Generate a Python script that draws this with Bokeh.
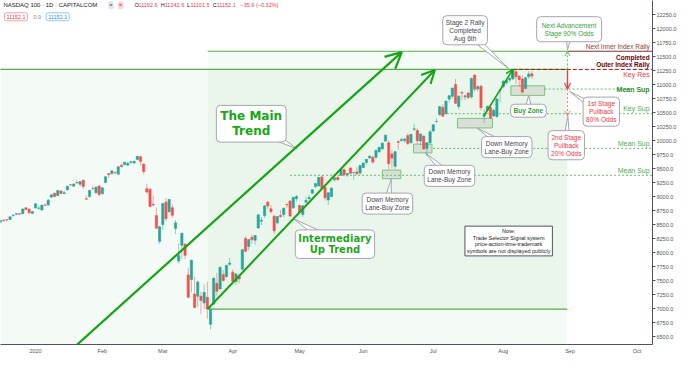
import numpy as np
import pandas as pd
from bokeh.plotting import figure
from bokeh.models import (ColumnDataSource, Label, Arrow, OpenHead, FixedTicker,
                          NumeralTickFormatter, Range1d)
from bokeh.embed import file_html
from bokeh.resources import INLINE

# ---------------- data ----------------
holidays = ["2019-12-25", "2020-01-01", "2020-01-20", "2020-02-17", "2020-04-10",
            "2020-05-25", "2020-07-03", "2020-09-07"]

# daily bars (open, high, low, close), NASDAQ 100 CFD, from 2019-12-16
dec19 = [(8540, 8590, 8535, 8573), (8580, 8590, 8560, 8572), (8585, 8600, 8570, 8580),
         (8590, 8640, 8585, 8638), (8660, 8680, 8640, 8668), (8685, 8700, 8670, 8693),
         (8695, 8700, 8680, 8686), (8695, 8780, 8690, 8778), (8800, 8805, 8750, 8771),
         (8775, 8780, 8690, 8709), (8700, 8735, 8685, 8733)]
jan20 = [(8800, 8873, 8780, 8872), (8790, 8835, 8770, 8794), (8760, 8850, 8745, 8848),
         (8850, 8875, 8835, 8846), (8850, 8960, 8840, 8935), (8990, 9035, 8975, 9030),
         (9060, 9065, 8985, 9002), (9020, 9110, 9005, 9108), (9100, 9110, 9050, 9056),
         (9055, 9100, 9045, 9068), (9120, 9185, 9110, 9185), (9210, 9220, 9185, 9208),
         (9185, 9240, 9180, 9222), (9250, 9290, 9235, 9242), (9220, 9270, 9180, 9268),
         (9290, 9300, 9140, 9179), (8960, 9020, 8950, 8953), (9000, 9120, 8980, 9110),
         (9140, 9190, 9120, 9139), (9070, 9180, 9050, 9168), (9190, 9195, 9000, 9036)]
feb20 = [(9050, 9170, 9040, 9155), (9250, 9360, 9240, 9354), (9410, 9420, 9330, 9392),
         (9410, 9460, 9390, 9459), (9430, 9450, 9390, 9424), (9400, 9535, 9395, 9531),
         (9560, 9590, 9520, 9534), (9570, 9615, 9560, 9613), (9560, 9620, 9550, 9595),
         (9610, 9625, 9580, 9623), (9600, 9640, 9580, 9629), (9660, 9720, 9655, 9718),
         (9710, 9735, 9550, 9628), (9580, 9600, 9400, 9447), (9140, 9230, 9060, 9080),
         (9130, 9150, 8810, 8821), (8860, 9020, 8830, 8848), (8660, 8800, 8430, 8436),
         (8200, 8480, 8150, 8462)]
mar20 = [(8500, 8880, 8400, 8877), (8900, 8980, 8560, 8604), (8730, 8950, 8700, 8949),
         (8800, 8860, 8620, 8665), (8430, 8580, 8330, 8530), (7850, 8170, 7800, 7948),
         (8130, 8345, 7880, 8344), (8150, 8170, 7880, 7952), (7600, 7730, 7190, 7201),
         (7520, 7870, 7290, 7863), (7260, 7570, 7000, 7020), (7220, 7500, 7030, 7474),
         (7220, 7300, 6900, 7143), (7100, 7440, 6990, 7288), (7200, 7480, 6820, 6994),
         (6720, 7040, 6630, 6990), (7080, 7560, 7060, 7540), (7450, 7640, 7230, 7310),
         (7350, 7740, 7340, 7738), (7610, 7690, 7480, 7503), (7570, 7790, 7550, 7769),
         (7790, 7900, 7760, 7813)]
apr20 = [(7650, 7700, 7480, 7487), (7480, 7640, 7420, 7618), (7580, 7620, 7450, 7528),
         (7700, 8060, 7690, 8052), (8250, 8290, 8010, 8024), (8110, 8240, 8040, 8233),
         (8270, 8320, 8160, 8232), (8220, 8310, 8140, 8303), (8440, 8680, 8420, 8673),
         (8560, 8640, 8490, 8577), (8660, 8850, 8620, 8833), (8900, 8920, 8780, 8833),
         (8780, 8850, 8700, 8730), (8650, 8670, 8330, 8388), (8530, 8650, 8510, 8642),
         (8660, 8760, 8620, 8644), (8680, 8800, 8630, 8789), (8860, 8880, 8800, 8854),
         (8920, 8930, 8640, 8651), (8800, 8990, 8780, 8986), (8960, 9030, 8910, 9000)]
may20 = [(8840, 8860, 8690, 8718), (8680, 8840, 8640, 8834), (8900, 9000, 8880, 8930),
         (8960, 9030, 8950, 8984), (9060, 9130, 9050, 9121), (9180, 9240, 9150, 9235),
         (9190, 9350, 9180, 9339), (9350, 9380, 9140, 9146), (9160, 9200, 8930, 8977),
         (8940, 9070, 8850, 9068), (9000, 9160, 8990, 9152), (9300, 9360, 9270, 9331),
         (9340, 9380, 9290, 9299), (9380, 9490, 9370, 9485), (9480, 9500, 9360, 9389),
         (9390, 9420, 9350, 9413), (9510, 9520, 9400, 9414), (9430, 9440, 9300, 9430),
         (9440, 9520, 9390, 9409), (9420, 9560, 9390, 9555)]
jun20 = [(9520, 9610, 9510, 9598), (9610, 9665, 9570, 9664), (9690, 9740, 9670, 9720),
         (9700, 9730, 9590, 9615), (9700, 9850, 9670, 9824), (9800, 9880, 9780, 9880),
         (9850, 9970, 9840, 9953), (9990, 10110, 9980, 10094), (9960, 10000, 9480, 9587),
         (9760, 9830, 9500, 9685), (9540, 9820, 9490, 9799), (9980, 10010, 9830, 9967),
         (10000, 10050, 9980, 10020), (10000, 10040, 9960, 10027), (10090, 10130, 9920, 9946),
         (9960, 10120, 9950, 10111), (10200, 10300, 10170, 10209), (10180, 10220, 9940, 9997),
         (9990, 10120, 9920, 10118), (10080, 10090, 9840, 9849), (9860, 9970, 9720, 9962),
         (9960, 10190, 9950, 10157)]
jul20 = [(10170, 10290, 10160, 10280), (10340, 10400, 10320, 10341), (10460, 10620, 10450, 10605),
         (10590, 10650, 10430, 10434), (10480, 10710, 10470, 10706), (10740, 10810, 10680, 10800),
         (10790, 10940, 10750, 10937), (11000, 11100, 10650, 10666), (10610, 10810, 10560, 10793),
         (10860, 10880, 10720, 10847), (10780, 10820, 10720, 10799), (10850, 10860, 10740, 10767),
         (10780, 11120, 10750, 11110), (11170, 11180, 10880, 10914), (10920, 10990, 10880, 10962),
         (10970, 11000, 10540, 10587), (10440, 10560, 10310, 10462), (10540, 10630, 10520, 10610),
         (10590, 10610, 10390, 10402), (10440, 10570, 10420, 10542), (10430, 10760, 10400, 10742),
         (10900, 10920, 10680, 10905)]
aug20 = [(10960, 11080, 10940, 11060), (11030, 11090, 10990, 11072), (11080, 11130, 11040, 11111),
         (11100, 11280, 11080, 11268), (11230, 11250, 11010, 11139), (11150, 11170, 10960, 11089),
         (11100, 11170, 10840, 10866), (10930, 11140, 10920, 11123), (11140, 11240, 11100, 11188),
         (11192.6, 11242.6, 11101.5, 11152.1)]

month_labels = ["2020", "Feb", "Mar", "Apr", "May", "Jun", "Jul", "Aug", "Sep", "Oct"]
price_ticks = list(range(6500, 12251, 250))

# horizontal levels drawn by the analyst
level_prices = [11595, 11270, 11267, 10920, 10480, 9860, 9380]
level_texts = ["Next Inner Index Rally", "Completed\nOuter Index Rally", "Key Res",
               "Mean Sup", "Key Sup", "Mean Sup", "Mean Sup"]
last_price = 11152.1

# trend lines (bar index, price) -> (bar index, price)
main_trend = (12, 6300, 115.1, 11580)
inter_trend = (54.1, 6991, 125.5, 11260)
stage2_leg = (140.8, 10430, 150.0, 11270)

# buy zones (bar from, bar to, price low, price high)
zones = [(109.0, 114.8, 9318, 9472), (118.8, 124.6, 9780, 9935),
         (132.6, 143.6, 10225, 10396), (149.4, 160.0, 10807, 10978)]

# ---------------- build ----------------
ohlc = dec19 + jan20 + feb20 + mar20 + apr20 + may20 + jun20 + jul20 + aug20
cal = pd.bdate_range("2019-12-16", "2020-10-30")
cal = cal[~cal.isin(pd.to_datetime(holidays))]
origin = int(np.where(cal == pd.Timestamp("2020-01-02"))[0][0])
idx_all = np.arange(len(cal)) - origin
n = len(ohlc)
x = idx_all[:n].astype(float)
o, h, l, c = (np.array(col, dtype=float) for col in zip(*ohlc))

month_ticks = []
for m in range(1, 11):
    first = np.where((cal.year == 2020) & (cal.month == m))[0][0]
    month_ticks.append(int(first - origin))

X0, X1 = -11.0, 193.9
Y0, Y1 = 6358.0, 12501.0
FONT = "Liberation Sans"

p = figure(width=679, height=356, x_range=Range1d(X0, X1), y_range=Range1d(Y0, Y1),
           output_backend="svg", toolbar_location=None, y_axis_location="right",
           background_fill_color="white", border_fill_color="white",
           min_border_left=0, min_border_top=0, min_border_right=0, min_border_bottom=0)
p.grid.visible = False
p.outline_line_color = None

AX = "#50535e"
p.yaxis.ticker = FixedTicker(ticks=price_ticks)
p.yaxis.formatter = NumeralTickFormatter(format="0.0")
p.yaxis.axis_line_color = AX
p.yaxis.major_tick_line_color = AX
p.yaxis.major_tick_out = 3
p.yaxis.major_tick_in = 0
p.yaxis.minor_tick_line_color = None
p.yaxis.minor_tick_out = 0
p.yaxis.minor_tick_in = 0
p.yaxis.major_label_text_font_size = "5.5px"
p.yaxis.major_label_text_color = AX
p.yaxis.major_label_text_font = FONT
p.yaxis.major_label_standoff = 1

p.xaxis.ticker = FixedTicker(ticks=month_ticks)
p.xaxis.major_label_overrides = {t: lab for t, lab in zip(month_ticks, month_labels)}
p.xaxis.axis_line_color = AX
p.xaxis.major_tick_line_color = None
p.xaxis.minor_tick_line_color = None
p.xaxis.major_tick_out = 0
p.xaxis.major_tick_in = 0
p.xaxis.minor_tick_out = 0
p.xaxis.minor_tick_in = 0
p.xaxis.major_label_text_font_size = "5.5px"
p.xaxis.major_label_text_color = AX
p.xaxis.major_label_text_font = FONT
p.xaxis.major_label_standoff = 3

G_LINE = "#5aab46"
# shaded rectangles
p.quad(left=[X0 - 2], right=[167.1], bottom=[Y0 - 200], top=[level_prices[1]],
       fill_color="#4caf50", fill_alpha=0.06, line_color=None, level="underlay")
p.quad(left=[inter_trend[0]], right=[167.1], bottom=[inter_trend[1]], top=[level_prices[0]],
       fill_color="#4caf50", fill_alpha=0.055, line_color=None, level="underlay")
p.line([X0 - 2, 167.1], [level_prices[1]] * 2, line_color=G_LINE, line_width=1.3)
p.line([inter_trend[0], 167.1], [level_prices[0]] * 2, line_color=G_LINE, line_width=1.2)
p.line([inter_trend[0], 167.1], [inter_trend[1]] * 2, line_color=G_LINE, line_width=1.2)

# buy zones
for z0, z1, zl, zh in zones:
    p.quad(left=[z0], right=[z1], bottom=[zl], top=[zh], fill_color="#c8ccc8",
           fill_alpha=0.55, line_color="#7cc47c", line_width=1)

# level lines
lvl_start = [167.1, 150.0, None, 160.0, 128.0, 125.0, 80.0]
lvl_end = [X1, X1, None, 187.0, X1, X1, X1]
lvl_color = ["#8b2c2c", "#a31515", None, "#66bb6a", "#66bb6a", "#66bb6a", "#66bb6a"]
lvl_dash = ["solid", "4 2", None, "2 2", "2 2", "2 2", "2 2"]
for pr, s, e, col, d in zip(level_prices, lvl_start, lvl_end, lvl_color, lvl_dash):
    if s is None:
        continue
    p.line([s, e], [pr, pr], line_color=col, line_width=1, line_dash=d)

# candles
UP, DN = "#26a69a", "#ef5350"
up = c >= o
for mask, col in ((up, UP), (~up, DN)):
    src = ColumnDataSource(dict(x=x[mask], o=o[mask], h=h[mask], l=l[mask], c=c[mask],
                                top=np.maximum(o, c)[mask], bot=np.minimum(o, c)[mask]))
    p.segment(x0="x", y0="l", x1="x", y1="h", source=src, line_color=col,
              line_alpha=0.5, line_width=1)
    p.vbar(x="x", top="top", bottom="bot", width=0.7, source=src, fill_color=col,
           line_color=col, line_width=0.6)

# trend arrows
TG = "#16a316"
for (xa, ya, xb, yb), hs, lw in ((main_trend, 16, 2.2), (inter_trend, 13, 2), (stage2_leg, 7, 1.6)):
    p.add_layout(Arrow(end=OpenHead(size=hs, line_color=TG, line_width=lw),
                       x_start=xa, y_start=ya, x_end=xb, y_end=yb,
                       line_color=TG, line_width=lw))

# vertical projection arrows
p.add_layout(Arrow(end=OpenHead(size=5, line_color="#66bb6a", line_width=1),
                   x_start=167.2, y_start=level_prices[1], x_end=167.2, y_end=level_prices[0],
                   line_color="#66bb6a", line_width=1, line_dash="2 2"))
p.add_layout(Arrow(end=OpenHead(size=6, line_color="#f23645", line_width=1.2),
                   x_start=167.2, y_start=level_prices[1], x_end=167.2, y_end=level_prices[3],
                   line_color="#f23645", line_width=1.3))
p.add_layout(Arrow(end=OpenHead(size=5, line_color="#f77c80", line_width=1),
                   x_start=167.2, y_start=level_prices[3], x_end=167.2, y_end=level_prices[4] - 40,
                   line_color="#f77c80", line_width=1, line_dash="2 2"))

# callouts
SX = 655 / (X1 - X0)
SY = 344 / (Y1 - Y0)


def callout(text, cx, cy, tx=None, ty=None, color="#434651", size="6.5px", bold=False,
            font=FONT, pad=3, radius=4, border="#a3a6af", halfw=5, lh=1.15):
    if tx is not None:
        vx, vy = (tx - cx) * SX, (ty - cy) * SY
        ln = (vx ** 2 + vy ** 2) ** 0.5
        nx, ny = -vy / ln, vx / ln
        xs = [cx + nx * halfw / SX, tx, cx - nx * halfw / SX]
        ys = [cy + ny * halfw / SY, ty, cy - ny * halfw / SY]
        p.patch(xs, ys, fill_color="white", line_color=border, line_width=1)
    p.add_layout(Label(x=cx, y=cy, text=text, text_align="center", text_baseline="middle",
                       anchor="center", text_color=color, text_font_size=size, text_font=font,
                       text_font_style="bold" if bold else "normal", text_line_height=lh,
                       background_fill_color="white", background_fill_alpha=1.0,
                       border_line_color=border, border_line_width=1,
                       padding=pad, border_radius=radius))


callout("The Main\nTrend", 67.8, 10300, 82.2, 9851, color="#15a815", size="12px", bold=True,
        font="DejaVu Sans", pad=4, lh=1.05, halfw=7)
callout("Intermediary\nUp Trend", 94.1, 8150, 81.2, 8600, color="#1fa61f", size="10px",
        bold=True, font="DejaVu Sans", pad=3, lh=1.05, halfw=6)
callout("Stage 2 Rally\nCompleted\nAug 6th", 135.0, 11970, 149.0, 11270, size="6.5px", halfw=4)
callout("Next Advancement\nStage 90% Odds", 167.7, 11988, 167.2, 11620, color="#3aa03a",
        size="6.5px", pad=5, halfw=4)
callout("Buy Zone", 154.9, 10533, 155.0, 10807, color="#2e9e2e", size="6.5px", bold=True, halfw=4)
callout("Down Memory\nLane-Buy Zone", 148.1, 9883, 138.7, 10225, halfw=4)
callout("Down Memory\nLane-Buy Zone", 130.1, 9370, 122.5, 9780, halfw=4)
callout("Down Memory\nLane-Buy Zone", 110.6, 8874, 111.8, 9318, halfw=4)
callout("1st Stage\nPullback\n80% Odds", 177.8, 10516, 167.8, 10880, color="#f23645", halfw=4)
callout("2nd Stage\nPullback\n20% Odds", 166.8, 9917, 167.3, 10430, color="#f23645", halfw=4)
callout("Note:\nTrade Selector Signal system\nprice-action-time-trademark\nsymbols are not displayed publicly",
        148.7, 8206, color="#131722", size="5.5px", pad=2, radius=0, border="#50535e", lh=1.1)

# level texts (right aligned)
XT = 193.0
ppx = 1 / SY
txt_specs = [  # (price shift in px, color, bold, size, baseline)
    (1.5, "#8b3a3a", False, "6.5px", "bottom"),
    (1.5, "#6b0000", True, "6.5px", "bottom"),
    (-1.5, "#f23645", False, "7px", "top"),
    (0.0, "#2e8b2e", True, "7px", "middle"),
    (1.5, "#4caf50", False, "7px", "bottom"),
    (1.5, "#4caf50", False, "7px", "bottom"),
    (1.5, "#4caf50", False, "7px", "bottom"),
]
for pr, t, (dy, col, b, sz, bl) in zip(level_prices, level_texts, txt_specs):
    p.add_layout(Label(x=XT, y=pr + dy * ppx, text=t, text_align="right", text_baseline=bl,
                       text_color=col, text_font_size=sz, text_font=FONT,
                       text_font_style="bold" if b else "normal", text_line_height=1.05))

# price tags on the axis (stacked like the platform does)
tag_prices = [11595, 11270, 11267, last_price, 10920, 10480, 9860, 9380]
tag_colors = ["#7b1b1b", "#3d0505", "#ff2a2a", "#f77474", "#43a047", "#4caf50", "#4caf50", "#4caf50"]
gap = 8.6 * ppx
prev = None
for pr, col in zip(tag_prices, tag_colors):
    yv = pr if prev is None else min(pr, prev - gap)
    prev = yv
    p.add_layout(Label(x=X1, y=yv, x_offset=1, text=f"{pr:.1f}", text_align="left",
                       text_baseline="middle", text_color="white", text_font_size="5.5px",
                       text_font=FONT, text_font_style="bold",
                       background_fill_color=col, padding=1))

# header overlay
def XR(px):
    return X0 + px * (X1 - X0) / 671


def YR(py):
    return Y1 - py * (Y1 - Y0) / 359


def hdr(px, py, text, color="#131722", size="6px", bg=None, border=None, pad=0, bold=False):
    p.add_layout(Label(x=XR(px), y=YR(py), text=text, text_align="left", text_baseline="middle",
                       text_color=color, text_font_size=size, text_font=FONT,
                       text_font_style="bold" if bold else "normal",
                       background_fill_color=bg, border_line_color=border,
                       padding=pad, border_radius=2))


hdr(3, 5, "NASDAQ 100 · 1D · CAPITALCOM")
hdr(111, 5, "=", color="#50535e", size="5.5px", bg="#e0e3eb", pad=1)
hdr(121, 5, "=", color="#f23645", size="5.5px", bg="#fcd3d8", pad=1)
RD = "#f23645"
for px, t, col in ((138, "O", "#131722"), (142, "11192.6", RD), (165, "H", "#131722"),
                   (169, "11242.6", RD), (192, "L", "#131722"), (195.5, "11101.5", RD),
                   (218.5, "C", "#131722"), (222.5, "11152.1", RD), (247, "−35.9 (−0.32%)", RD)):
    hdr(px, 5, t, color=col, size="5.5px")
hdr(4, 17, f"{last_price:.1f}", color=RD, size="5.5px", bg="white", border="#f7a1a8", pad=2)
hdr(34, 17, "0.0", color="#787b86", size="5.5px")
hdr(47, 17, f"{last_price:.1f}", color="#2196f3", size="5.5px", bg="white", border="#90c8f6", pad=2)

p.add_layout(Label(x=X1, y=YR(5), x_offset=8, text="USD", text_align="left", text_baseline="middle",
                   text_color="#50535e", text_font_size="5px", text_font=FONT,
                   background_fill_color="white", border_line_color="#b2b5be", padding=1,
                   border_radius=2))

open("out.html", "w").write(file_html(p, INLINE))
